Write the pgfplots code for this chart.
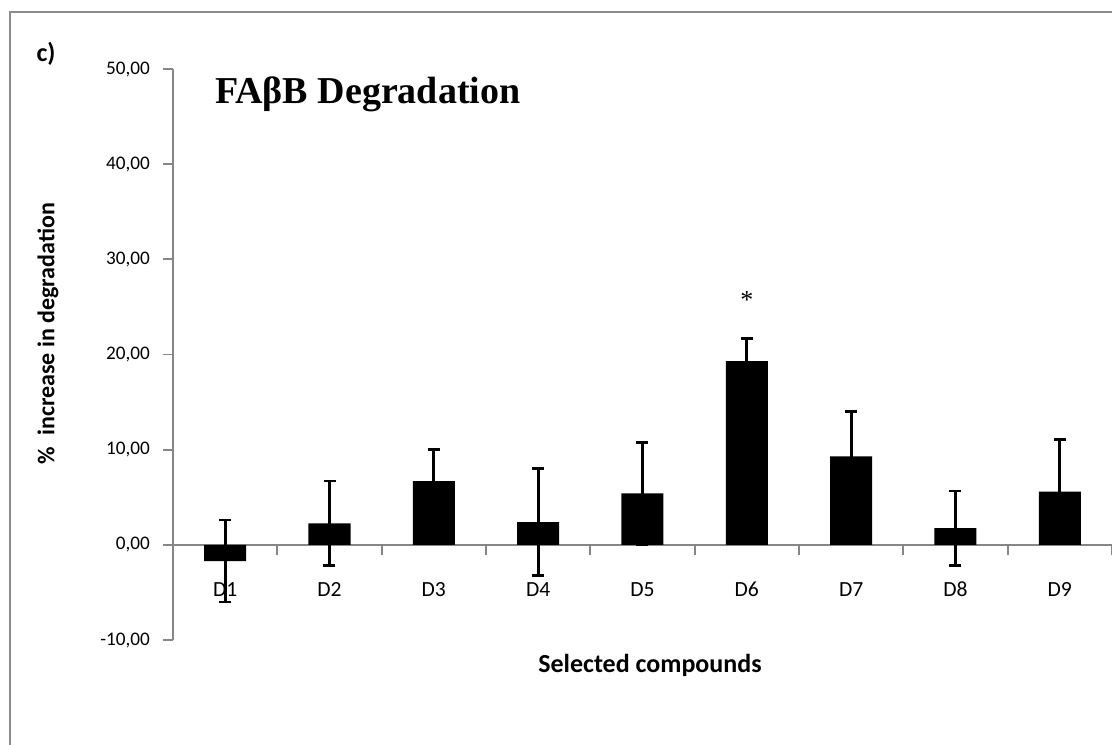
\documentclass[border=0pt]{standalone}
\usepackage{fontspec}
\setmainfont{Carlito}
\newfontfamily\tnr{Liberation Serif}
\usepackage{pgfplots}
\pgfplotsset{compat=1.18}
\definecolor{axgray}{RGB}{134,134,134}
\definecolor{framegray}{RGB}{140,140,140}
\begin{document}
\begin{tikzpicture}
\useasboundingbox (0,0) rectangle (556pt,-372pt);
\draw[framegray, line width=1.2pt] (5pt,-380pt) -- (5pt,-6pt) -- (560pt,-6pt);
\begin{axis}[
  at={(86.5pt,-320pt)}, anchor=south west,
  scale only axis, width=469.5pt, height=285.5pt,
  xmin=0.5, xmax=9.5, ymin=-10, ymax=50,
  axis x line=middle, axis y line=left,
  axis line style={-, axgray, line width=0.9pt},
  xtick={1,...,9},
  xticklabels={D1,D2,D3,D4,D5,D6,D7,D8,D9},
  major x tick style={draw=none},
  minor xtick={0.5,1.5,...,9.5},
  minor x tick style={axgray, line width=0.9pt},
  minor tick length=5pt,
  ytick={-10,0,10,20,30,40,50},
  yticklabels={{-10,00},{0,00},{10,00},{20,00},{30,00},{40,00},{50,00}},
  y tick style={axgray, line width=0.9pt},
  major tick length=5pt,
  tick align=outside,
  yticklabel style={font=\fontsize{9.6}{11}\selectfont, xshift=-3pt},
  xticklabel style={font=\fontsize{10.8}{13}\selectfont, anchor=base, yshift=-21pt},
  clip=false,
]
\addplot[ybar, bar width=21pt, fill=black, draw=none,
  error bars/.cd, y dir=both, y explicit,
  error bar style={line width=1.4pt, draw=black},
  error mark=|,
  error mark options={line width=1.4pt, draw=black, mark size=3pt}]
  table[x=x, y=y, y error=e] {
x y e
1 -1.7 4.3
2 2.25 4.45
3 6.7 3.3
4 2.4 5.65
5 5.4 5.35
6 19.3 2.35
7 9.3 4.7
8 1.75 3.9
9 5.6 5.45
};
\node[anchor=base, font=\tnr\fontsize{13}{15}\selectfont] at (axis cs:6,24.8) {*};
\end{axis}
\node[anchor=base west, font=\tnr\bfseries\fontsize{19}{22}\selectfont] at (104pt,-51.5pt) {FAβB Degradation};
\node[font=\bfseries\fontsize{13}{15}\selectfont] at (23pt,-27pt) {c)};
\node[rotate=90, font=\bfseries\fontsize{12}{14}\selectfont] at (24pt,-166.75pt) {\%\ \ increase in degradation};
\node[font=\bfseries\fontsize{13}{15}\selectfont] at (325pt,-332.5pt) {Selected compounds};
\end{tikzpicture}
\end{document}
